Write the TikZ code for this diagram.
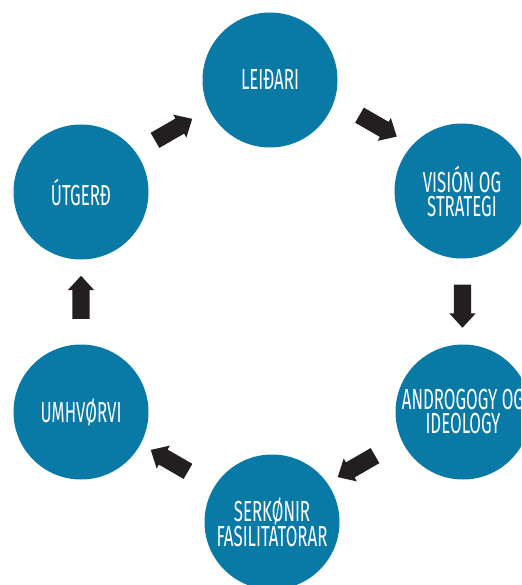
\documentclass[tikz,border=0pt]{standalone}
\usepackage{fontspec}
\setmainfont{Fira Sans}[FakeStretch=0.58]
\usetikzlibrary{shapes.arrows,calc}
\definecolor{circblue}{RGB}{9,121,166}
\definecolor{arrowdark}{RGB}{35,31,32}
\tikzset{
  stage/.style={circle, fill=circblue, draw=none, minimum size=135pt, inner sep=0pt,
    text=white, align=center, font=\fontsize{29}{24}\selectfont},
  blockarrow/.style={single arrow, fill=arrowdark, draw=none, inner sep=0pt,
    text height=8.5pt, text depth=8.5pt, text width=0pt,
    minimum height=43pt, single arrow head extend=4.5pt,
    single arrow tip angle=85}
}
\begin{document}
\begin{tikzpicture}[x=1pt,y=-1pt]
\useasboundingbox (0,0) rectangle (521,585);
\clip (0,0) rectangle (521,585);
\node[stage] (l) at (270,80) {LEIÐARI};
\node[stage] (v) at (462,191) {VISIÓN OG\\STRATEGI};
\node[stage] (a) at (463,412) {ANDROGOGY OG\\IDEOLOGY};
\node[stage] (s) at (272,522) {SERKØNIR\\FASILITATORAR};
\node[stage] (u) at (81,412) {UMHVØRVI};
\node[stage] (g) at (81,192) {ÚTGERÐ};
\node[blockarrow, rotate=30] (a1) at ($(g)!0.5!(l)+(-6,-4)$) {};
\node[blockarrow, rotate=-30] (a2) at ($(l)!0.5!(v)+(8,-12)$) {};
\node[blockarrow, rotate=-90] (a3) at ($(v)!0.5!(a)$) {};
\node[blockarrow, rotate=-150] (a4) at ($(a)!0.5!(s)+(-7,-3)$) {};
\node[blockarrow, rotate=150] (a5) at ($(s)!0.5!(u)+(-3,-4)$) {};
\node[blockarrow, rotate=90] (a6) at ($(u)!0.5!(g)$) {};
\end{tikzpicture}
\end{document}
